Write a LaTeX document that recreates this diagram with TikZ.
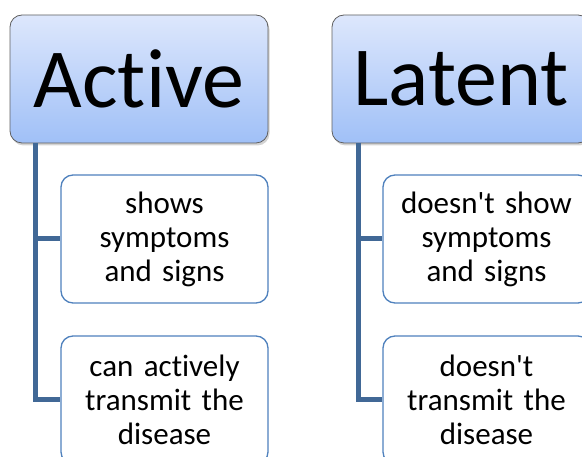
\documentclass[tikz,border=0pt]{standalone}
\usepackage{fontspec}
\setmainfont{Carlito}[Ligatures={NoCommon}]
\usetikzlibrary{shadows}
\definecolor{hdtop}{RGB}{221,231,252}
\definecolor{hdbot}{RGB}{160,192,247}
\definecolor{hdborder}{RGB}{95,95,95}
\definecolor{childborder}{RGB}{79,129,189}
\definecolor{connc}{RGB}{65,104,150}
\tikzset{
  header/.style={draw=hdborder, line width=0.8pt, rounded corners=12pt,
    top color=hdtop, bottom color=hdbot,
    drop shadow={shadow xshift=1.5pt, shadow yshift=-2.5pt, opacity=0.35},
    minimum width=258pt, minimum height=128pt, inner sep=0pt,
    font=\fontsize{84}{100}\selectfont},
  child/.style={draw=childborder, line width=1.3pt, fill=white, rounded corners=12pt,
    minimum width=207pt, minimum height=128pt, inner sep=0pt,
    text width=204pt, align=center,
    font=\fontsize{31}{34}\selectfont},
  conn/.style={draw=connc, line width=5pt, line join=miter}
}
\begin{document}
\begin{tikzpicture}[x=1pt,y=-1pt]
\useasboundingbox (0,0) rectangle (582,457);
\clip (0,0) rectangle (582,457);
% headers
\node[header] (A) at (139,79) {Active};
\node[header] (L) at (461,79) {Latent};
% connector anchors
\coordinate (cA) at (35,143);
\coordinate (cL) at (358,143);
% children
\node[child] (a1) at (164.5,239) {shows\\symptoms\\and signs};
\node[child] (a2) at (164.5,400) {can actively\\transmit the\\disease};
\node[child] (l1) at (486.5,239) {doesn\textquotesingle t show\\symptoms\\and signs};
\node[child] (l2) at (486.5,400) {doesn\textquotesingle t\\transmit the\\disease};
% connectors
\draw[conn] (cA) |- (a2.west);
\draw[conn] (cA |- a1.west) -- (a1.west);
\draw[conn] (cL) |- (l2.west);
\draw[conn] (cL |- l1.west) -- (l1.west);
\end{tikzpicture}
\end{document}
